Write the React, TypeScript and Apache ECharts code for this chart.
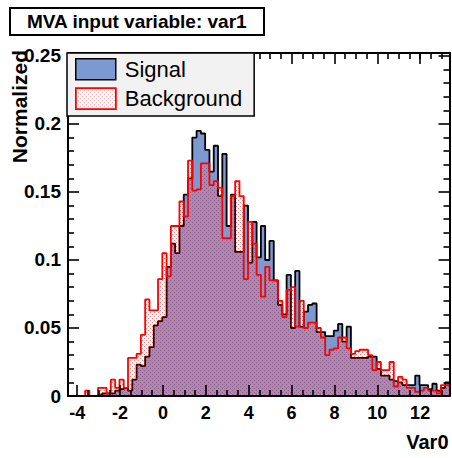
import React, { useEffect, useRef } from "react";
import * as echarts from "echarts";

// ---- data ----
const X_MIN = -4.43;
const BIN_WIDTH = 0.2;
const Y_MAX = 0.2522;

const signal = [
  0, 0, 0, 0, 0, 0, 0, 0.001, 0.002, 0.002,
  0.002, 0.004, 0.005, 0.006, 0.004, 0.012, 0.023, 0.022, 0.029, 0.036,
  0.052, 0.055, 0.058, 0.095, 0.112, 0.105, 0.125, 0.148, 0.16, 0.19,
  0.195, 0.193, 0.181, 0.165, 0.184, 0.147, 0.178, 0.125, 0.148, 0.106,
  0.106, 0.14, 0.098, 0.128, 0.102, 0.125, 0.1, 0.114, 0.085, 0.067,
  0.06, 0.089, 0.05, 0.092, 0.051, 0.062, 0.067, 0.068, 0.047, 0.047,
  0.044, 0.044, 0.048, 0.053, 0.04, 0.051, 0.028, 0.028, 0.028, 0.028,
  0.029, 0.029, 0.02, 0.015, 0.015, 0.012, 0.011, 0.01, 0.008, 0.008,
  0.008, 0.015, 0.008, 0.008, 0.005, 0.009, 0.004, 0.006, 0.01,
];

const background = [
  0, 0, 0, 0, 0.004, 0, 0, 0.006, 0.006, 0.002,
  0.012, 0.006, 0.012, 0.006, 0.028, 0.028, 0.031, 0.045, 0.071, 0.063,
  0.063, 0.086, 0.105, 0.088, 0.125, 0.125, 0.143, 0.132, 0.173, 0.151,
  0.152, 0.171, 0.171, 0.155, 0.158, 0.153, 0.116, 0.116, 0.147, 0.158,
  0.147, 0.086, 0.128, 0.112, 0.089, 0.073, 0.095, 0.085, 0.085, 0.07,
  0.058, 0.078, 0.08, 0.051, 0.07, 0.05, 0.054, 0.054, 0.05, 0.043,
  0.03, 0.034, 0.035, 0.043, 0.043, 0.035, 0.031, 0.033, 0.034, 0.034,
  0.03, 0.019, 0.025, 0.019, 0.019, 0.025, 0.007, 0.014, 0.012, 0.006,
  0.006, 0.003, 0.004, 0.006, 0.004, 0.004, 0.002, 0.008, 0.008,
];

const xTickLabels = [-4, -2, 0, 2, 4, 6, 8, 10, 12];
const yTickLabels = [0, 0.05, 0.1, 0.15, 0.2, 0.25];
const legendNames = ["Signal", "Background"];

// ---- layout ----
const W = 452;
const H = 458;
const G_LEFT = 68;
const G_RIGHT = 2.5;
const G_TOP = 53;
const G_BOTTOM = 62;
const FONT = "Liberation Sans";
const SIGNAL_FILL = "#7d99d1";
const BKG_LINE = "#ff0000";

const N = signal.length;
const X_MAX = X_MIN + N * BIN_WIDTH;
const plotW = W - G_LEFT - G_RIGHT;
const plotH = H - G_TOP - G_BOTTOM;
const px = (v: number) => G_LEFT + ((v - X_MIN) / (X_MAX - X_MIN)) * plotW;
const py = (v: number) => G_TOP + (1 - v / Y_MAX) * plotH;

const X_MAJOR = xTickLabels[1] - xTickLabels[0];
const X_FIRST = xTickLabels[0];
const X_LAST = xTickLabels[xTickLabels.length - 1];
const Y_MAJOR = yTickLabels[1] - yTickLabels[0];
const Y_TOP_LABEL = yTickLabels[yTickLabels.length - 1];

function stepData(vals: number[]) {
  const d: number[][] = vals.map((v, i) => [X_MIN + i * BIN_WIDTH, v]);
  d.push([X_MAX, vals[vals.length - 1]]);
  return d;
}

const dotDecal = {
  symbol: "rect",
  symbolSize: 1,
  color: "rgba(255,0,0,0.5)",
  dashArrayX: [[1, 3], [0, 2, 1, 1]],
  dashArrayY: [1, 1],
  rotation: 0,
};

const tickLine = { color: "#000", width: 1.6 };
const frameLine = { show: true, onZero: false, lineStyle: { color: "#000", width: 2 } };
const noLine = { show: false, onZero: false };

export default function App() {
  const ref = useRef<HTMLDivElement>(null);

  useEffect(() => {
    if (!ref.current) return;
    const chart = echarts.init(ref.current, undefined, { renderer: "svg" });

    const hiddenX = (g: number) => ({ type: "value", gridIndex: g, show: false, min: 0, max: 1, axisLine: noLine });
    const hiddenY = (g: number) => ({ type: "value", gridIndex: g, show: false, min: 0, max: 1, axisLine: noLine });

    const option: any = {
      animation: false,
      backgroundColor: "#ffffff",
      title: {
        text: "MVA input variable: var1",
        left: 10,
        top: 8,
        padding: [4, 17],
        borderWidth: 2,
        borderColor: "#000",
        backgroundColor: "#fff",
        textStyle: { fontSize: 19, fontWeight: "bold", fontFamily: FONT, color: "#000" },
      },
      legend: {
        orient: "vertical",
        left: 67,
        top: 53,
        z: 20,
        itemWidth: 40,
        itemHeight: 21,
        itemGap: 7,
        padding: [5, 12, 6, 8],
        backgroundColor: "#f2f2f2",
        borderColor: "#000",
        borderWidth: 1.5,
        textStyle: { fontSize: 22, fontFamily: FONT, color: "#000", padding: [0, 0, 0, 4] },
        data: [
          { name: legendNames[0], icon: "rect", itemStyle: { color: SIGNAL_FILL, borderColor: "#000", borderWidth: 1.5, decal: "none" } },
          { name: legendNames[1], icon: "rect", itemStyle: { color: "#ffffff", borderColor: BKG_LINE, borderWidth: 1.5, decal: dotDecal } },
        ],
      },
      grid: [
        { left: G_LEFT, right: G_RIGHT, top: G_TOP, bottom: G_BOTTOM },
        { left: px(X_FIRST), right: W - px(X_LAST), top: G_TOP, bottom: G_BOTTOM },
        { left: px(X_LAST), right: W - px(X_LAST + 1), top: G_TOP, bottom: G_BOTTOM },
        { left: G_LEFT, right: G_RIGHT, top: py(Y_TOP_LABEL), bottom: G_BOTTOM },
      ],
      xAxis: [
        {
          type: "value", gridIndex: 0, min: X_MIN, max: X_MAX, position: "bottom", z: 10,
          axisLine: frameLine, axisTick: { show: false }, axisLabel: { show: false }, splitLine: { show: false },
          name: "Var0", nameLocation: "end", nameGap: -1,
          nameTextStyle: { fontSize: 20, fontWeight: "bold", fontFamily: FONT, color: "#000", align: "right", verticalAlign: "top", padding: [36, 0, 0, 0] },
        },
        {
          type: "value", gridIndex: 0, min: X_MIN, max: X_MAX, position: "top", z: 10,
          axisLine: frameLine, axisTick: { show: false }, axisLabel: { show: false }, splitLine: { show: false },
        },
        {
          type: "value", gridIndex: 1, min: X_FIRST, max: X_LAST, interval: X_MAJOR, position: "bottom", z: 10,
          axisLine: noLine,
          axisTick: { show: true, inside: true, length: 11, lineStyle: tickLine },
          minorTick: { show: true, splitNumber: 4, length: 6, lineStyle: tickLine },
          axisLabel: {
            show: true, margin: 8, fontSize: 18, fontWeight: "bold", fontFamily: FONT, color: "#000",
            formatter: (v: number) => (xTickLabels.some((t) => Math.abs(t - v) < 1e-6) ? String(v) : ""),
          },
          splitLine: { show: false },
        },
        {
          type: "value", gridIndex: 1, min: X_FIRST, max: X_LAST, interval: X_MAJOR, position: "top", z: 10,
          axisLine: noLine,
          axisTick: { show: true, inside: true, length: 11, lineStyle: tickLine },
          minorTick: { show: true, splitNumber: 4, length: 6, lineStyle: tickLine },
          axisLabel: { show: false }, splitLine: { show: false },
        },
        {
          type: "value", gridIndex: 2, min: X_LAST, max: X_LAST + 1, interval: X_MAJOR / 4, position: "bottom", z: 10,
          axisLine: noLine,
          axisTick: { show: true, inside: true, length: 6, lineStyle: tickLine },
          axisLabel: { show: false }, splitLine: { show: false },
        },
        {
          type: "value", gridIndex: 2, min: X_LAST, max: X_LAST + 1, interval: X_MAJOR / 4, position: "top", z: 10,
          axisLine: noLine,
          axisTick: { show: true, inside: true, length: 6, lineStyle: tickLine },
          axisLabel: { show: false }, splitLine: { show: false },
        },
        hiddenX(3),
      ],
      yAxis: [
        {
          type: "value", gridIndex: 0, min: 0, max: Y_MAX, position: "left", z: 10,
          axisLine: frameLine, axisTick: { show: false }, axisLabel: { show: false }, splitLine: { show: false },
        },
        {
          type: "value", gridIndex: 0, min: 0, max: Y_MAX, position: "right", z: 10,
          axisLine: frameLine, axisTick: { show: false }, axisLabel: { show: false }, splitLine: { show: false },
        },
        hiddenY(1),
        hiddenY(2),
        {
          type: "value", gridIndex: 3, min: 0, max: Y_TOP_LABEL, interval: Y_MAJOR, position: "left", z: 10,
          axisLine: noLine,
          axisTick: { show: true, inside: true, length: 11, lineStyle: tickLine },
          minorTick: { show: true, splitNumber: 5, length: 6, lineStyle: tickLine },
          axisLabel: {
            show: true, margin: 7, fontSize: 19, fontWeight: "bold", fontFamily: FONT, color: "#000",
            formatter: (v: number) => {
              const t = yTickLabels.find((y) => Math.abs(y - v) < 1e-9);
              return t === undefined ? "" : String(t);
            },
          },
          splitLine: { show: false },
        },
        {
          type: "value", gridIndex: 3, min: 0, max: Y_TOP_LABEL, interval: Y_MAJOR, position: "right", z: 10,
          axisLine: noLine,
          axisTick: { show: true, inside: true, length: 11, lineStyle: tickLine },
          minorTick: { show: true, splitNumber: 5, length: 6, lineStyle: tickLine },
          axisLabel: { show: false }, splitLine: { show: false },
        },
      ],
      graphic: [
        {
          type: "text",
          x: 19,
          y: 50,
          rotation: Math.PI / 2,
          z: 10,
          style: {
            text: "Normalized",
            fontSize: 21,
            fontWeight: "bold",
            fontFamily: FONT,
            fill: "#000",
            align: "right",
            verticalAlign: "middle",
          },
        },
      ],
      series: [
        {
          type: "line",
          name: legendNames[0],
          xAxisIndex: 0,
          yAxisIndex: 0,
          data: stepData(signal),
          step: "end",
          symbol: "none",
          showSymbol: false,
          z: 2,
          itemStyle: { color: SIGNAL_FILL },
          lineStyle: { color: "#000", width: 1.8 },
          areaStyle: { color: SIGNAL_FILL, opacity: 1 },
        },
        {
          type: "line",
          name: legendNames[1],
          xAxisIndex: 0,
          yAxisIndex: 0,
          data: stepData(background),
          step: "end",
          symbol: "none",
          showSymbol: false,
          z: 3,
          itemStyle: { color: BKG_LINE, decal: dotDecal },
          lineStyle: { color: BKG_LINE, width: 1.8 },
          areaStyle: { color: "rgba(255,255,255,0)", opacity: 1 },
        },
      ],
    };

    chart.setOption(option);
    return () => chart.dispose();
  }, []);

  return (
    <div
      ref={ref}
      style={{ position: "absolute", left: 0, top: 0, width: W, height: H }}
    />
  );
}
